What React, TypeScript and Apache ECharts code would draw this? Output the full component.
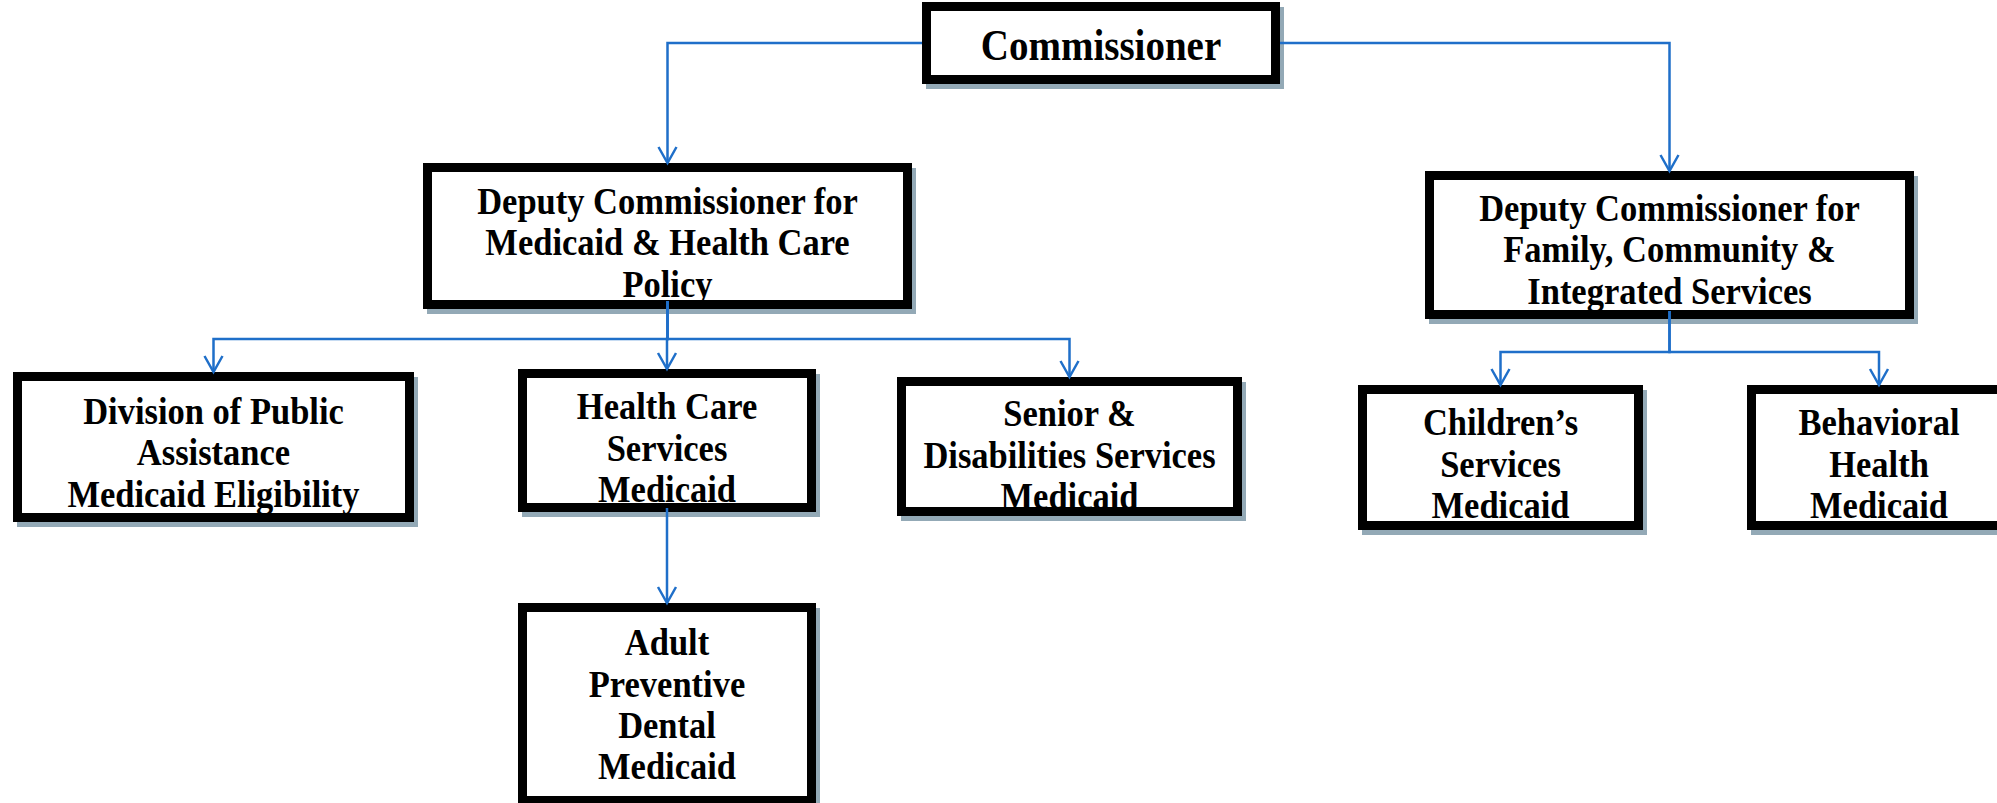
import React, { useEffect, useRef } from "react";
import * as echarts from "echarts";

// ---- Data: org units and their reporting lines ----
const nodeLabels: string[] = [
  "Commissioner",
  "Deputy Commissioner for\nMedicaid & Health Care\nPolicy",
  "Deputy Commissioner for\nFamily, Community &\nIntegrated Services",
  "Division of Public\nAssistance\nMedicaid Eligibility",
  "Health Care\nServices\nMedicaid",
  "Senior &\nDisabilities Services\nMedicaid",
  "Children’s\nServices\nMedicaid",
  "Behavioral\nHealth\nMedicaid",
  "Adult\nPreventive\nDental\nMedicaid",
];
const nodeParents: number[] = [-1, 0, 0, 1, 1, 1, 2, 2, 4];

// ---- Layout (canvas units 1997 x 803): [x0, y0, x1, y1] outer box ----
const boxLayout: number[][] = [
  [922, 2, 1280, 84],
  [423, 163, 912, 309],
  [1425, 171, 1914, 319],
  [13, 372, 414, 522],
  [518, 369, 816, 512],
  [897, 377, 1242, 516],
  [1358, 385, 1643, 530],
  [1747, 385, 2011, 530],
  [518, 603, 816, 805],
];
const textOffsetY: number[] = [2, 6, 4, 5, 7, 8, 6, 6, 0];
const fontSizes: number[] = [39, 34.5, 34.5, 34.5, 34.5, 34.5, 34.5, 34.5, 34.5];
const busY: Record<number, number> = { 1: 339, 2: 352, 4: 556 };
const linkStartInset: Record<number, number> = { 1: 8, 2: 8, 4: 4 };

const W = 1997;
const H = 803;
const LINE_COLOR = "#1f6fc9";
const BORDER = 9;
const TEXT_STRETCH_Y = 1.13;
const LINE_PITCH = 41.5;

export default function App() {
  const ref = useRef<HTMLDivElement>(null);

  useEffect(() => {
    document.body.style.margin = "0";
    document.body.style.overflow = "hidden";
    if (!ref.current) return;
    const chart = echarts.init(ref.current, undefined, { renderer: "svg" });

    const nodeData = nodeLabels.map((_, i) => [i]);
    const edgeData = nodeParents
      .map((p, i) => [p, i])
      .filter((e) => e[0] >= 0);

    const center = (b: number[]) => (b[0] + b[2]) / 2;

    chart.setOption({
      animation: false,
      backgroundColor: "#ffffff",
      grid: { left: 0, right: 0, top: 0, bottom: 0 },
      xAxis: { type: "value", min: 0, max: W, show: false },
      yAxis: { type: "value", min: 0, max: H, inverse: true, show: false },
      series: [
        {
          type: "custom",
          name: "boxes",
          silent: true,
          z: 2,
          data: nodeData,
          renderItem: (params: any, api: any) => {
            const i = api.value(0);
            const b = boxLayout[i];
            const tl = api.coord([b[0], b[1]]);
            const br = api.coord([b[2], b[3]]);
            const w = br[0] - tl[0];
            const h = br[1] - tl[1];
            const cx = (tl[0] + br[0]) / 2;
            const cy = (tl[1] + br[1]) / 2 + textOffsetY[i];
            const fs = fontSizes[i];
            return {
              type: "group",
              children: [
                {
                  type: "rect",
                  shape: { x: tl[0] + 4, y: tl[1] + 5, width: w, height: h },
                  style: { fill: "#93a9b6" },
                },
                {
                  type: "rect",
                  shape: {
                    x: tl[0] + BORDER / 2,
                    y: tl[1] + BORDER / 2,
                    width: w - BORDER,
                    height: h - BORDER,
                  },
                  style: { fill: "#ffffff", stroke: "#000000", lineWidth: BORDER },
                },
                {
                  type: "text",
                  x: cx,
                  y: cy,
                  scaleY: TEXT_STRETCH_Y,
                  style: {
                    text: nodeLabels[i],
                    fill: "#000000",
                    font: `bold ${fs}px "Liberation Serif", "Times New Roman", serif`,
                    align: "center",
                    verticalAlign: "middle",
                    lineHeight: LINE_PITCH / TEXT_STRETCH_Y,
                  },
                },
              ],
            };
          },
        },
        {
          type: "custom",
          name: "links",
          silent: true,
          z: 3,
          data: edgeData,
          renderItem: (params: any, api: any) => {
            const p = api.value(0);
            const c = api.value(1);
            const pb = boxLayout[p];
            const cb = boxLayout[c];
            const ccx = center(cb);
            let pts: number[][];
            if (p === 0) {
              const pcx = center(pb);
              const midY = (pb[1] + pb[3]) / 2;
              const sx = ccx < pcx ? pb[0] : pb[2];
              pts = [
                [sx, midY],
                [ccx, midY],
                [ccx, cb[1]],
              ];
            } else {
              const pcx = center(pb);
              const by = busY[p];
              pts = [
                [pcx, pb[3] - (linkStartInset[p] ?? 8)],
                [pcx, by],
                [ccx, by],
                [ccx, cb[1]],
              ];
            }
            const px = pts.map((q) => api.coord(q));
            const tip = px[px.length - 1];
            return {
              type: "group",
              children: [
                {
                  type: "polyline",
                  shape: { points: px },
                  style: { stroke: LINE_COLOR, lineWidth: 2.5, fill: "none" },
                },
                {
                  type: "polyline",
                  shape: {
                    points: [
                      [tip[0] - 9, tip[1] - 16],
                      [tip[0], tip[1]],
                      [tip[0] + 9, tip[1] - 16],
                    ],
                  },
                  style: { stroke: LINE_COLOR, lineWidth: 2.5, fill: "none" },
                },
              ],
            };
          },
        },
      ],
    });

    return () => {
      chart.dispose();
    };
  }, []);

  return <div ref={ref} style={{ width: W, height: H }} />;
}
